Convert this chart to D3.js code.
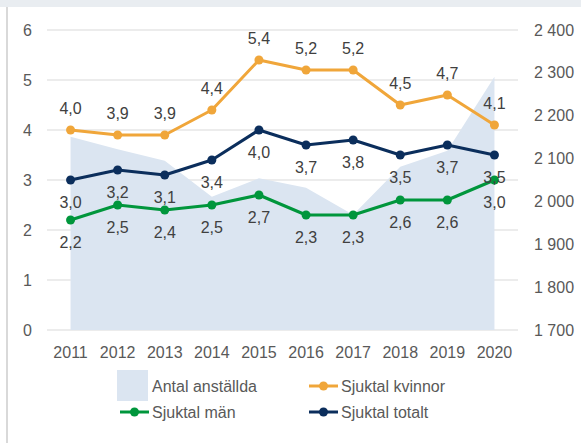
<!DOCTYPE html>
<html>
<head>
<meta charset="utf-8">
<script src="https://cdn.jsdelivr.net/npm/d3@7"></script>
<style>
  body { margin: 0; background: #fff; }
  text { font-family: "Liberation Sans", Arial, sans-serif; }
</style>
</head>
<body>
<svg id="chart" width="581" height="443"></svg>
<script>
var years = ["2011","2012","2013","2014","2015","2016","2017","2018","2019","2020"];
var anstallda = [2151, 2122, 2095, 2011, 2054, 2032, 1969, 2081, 2118, 2291];
var kvinnor = [4.0, 3.9, 3.9, 4.4, 5.4, 5.2, 5.2, 4.5, 4.7, 4.1];
var man = [2.2, 2.5, 2.4, 2.5, 2.7, 2.3, 2.3, 2.6, 2.6, 3.0];
var totalt = [3.0, 3.2, 3.1, 3.4, 4.0, 3.7, 3.8, 3.5, 3.7, 3.5];
var leftTicks = [0, 1, 2, 3, 4, 5, 6];
var rightTicks = [1700, 1800, 1900, 2000, 2100, 2200, 2300, 2400];

var svg = d3.select("#chart");

// frame: top band and left border
svg.append("rect").attr("x", 0).attr("y", 0).attr("width", 581).attr("height", 7).attr("fill", "#e9edf1");
svg.append("rect").attr("x", 6).attr("y", 7).attr("width", 2).attr("height", 436).attr("fill", "#d9d9d9");

var x = d3.scalePoint().domain(years).range([47, 518]).padding(0.5);
var y = d3.scaleLinear().domain([0, 6]).range([330, 30]);
var y2 = d3.scaleLinear().domain([1700, 2400]).range([330, 30]);

// gridlines
svg.append("g").selectAll("line")
  .data(leftTicks)
  .enter().append("line")
  .attr("x1", 47).attr("x2", 518)
  .attr("y1", function(d) { return y(d); })
  .attr("y2", function(d) { return y(d); })
  .attr("stroke", "#d9d9d9").attr("stroke-width", 1);

// area for antal anställda
var area = d3.area()
  .x(function(d, i) { return x(years[i]); })
  .y0(y2(1700))
  .y1(function(d) { return y2(d); });
svg.append("path").datum(anstallda).attr("d", area).attr("fill", "#dbe5f1");

// left axis labels
svg.append("g").selectAll("text")
  .data(leftTicks)
  .enter().append("text")
  .attr("x", 32).attr("y", function(d) { return y(d); })
  .attr("dy", "0.35em").attr("text-anchor", "end")
  .attr("font-size", 16).attr("fill", "#595959")
  .text(function(d) { return d; });

// right axis labels
var fmtRight = function(d) { return d3.format(",")(d).replace(",", " "); };
svg.append("g").selectAll("text")
  .data(rightTicks)
  .enter().append("text")
  .attr("x", 534).attr("y", function(d) { return y2(d); })
  .attr("dy", "0.35em").attr("text-anchor", "start")
  .attr("font-size", 16).attr("fill", "#595959")
  .text(fmtRight);

// x labels
svg.append("g").selectAll("text")
  .data(years)
  .enter().append("text")
  .attr("x", function(d) { return x(d); }).attr("y", 352)
  .attr("dy", "0.35em").attr("text-anchor", "middle")
  .attr("font-size", 16).attr("fill", "#595959")
  .text(function(d) { return d; });

var line = d3.line()
  .x(function(d, i) { return x(years[i]); })
  .y(function(d) { return y(d); });

var fmt = function(d) { return d.toFixed(1).replace(".", ","); };

function drawSeries(data, color, labelOffset) {
  var g = svg.append("g");
  g.append("path").datum(data).attr("d", line)
    .attr("fill", "none").attr("stroke", color).attr("stroke-width", 3)
    .attr("stroke-linejoin", "round");
  g.selectAll("circle").data(data).enter().append("circle")
    .attr("cx", function(d, i) { return x(years[i]); })
    .attr("cy", function(d) { return y(d); })
    .attr("r", 4.5).attr("fill", color);
  g.selectAll("text").data(data).enter().append("text")
    .attr("x", function(d, i) { return x(years[i]); })
    .attr("y", function(d) { return y(d) + labelOffset; })
    .attr("dy", "0.35em").attr("text-anchor", "middle")
    .attr("font-size", 16).attr("fill", "#404040")
    .text(fmt);
}

drawSeries(man, "#00963c", 22);
drawSeries(totalt, "#0b2e5c", 22);
drawSeries(kvinnor, "#f0a63a", -22);

// legend
var legend = svg.append("g");
legend.append("rect").attr("x", 117).attr("y", 370).attr("width", 31).attr("height", 31)
  .attr("fill", "#dbe5f1");
legend.append("text").attr("x", 152).attr("y", 386).attr("dy", "0.35em")
  .attr("font-size", 16).attr("fill", "#595959").text("Antal anställda");

var legendLines = [
  {name: "Sjuktal kvinnor", color: "#f0a63a", lx: 309, ly: 386},
  {name: "Sjuktal män", color: "#00963c", lx: 120, ly: 412},
  {name: "Sjuktal totalt", color: "#0b2e5c", lx: 309, ly: 412}
];
legendLines.forEach(function(d) {
  legend.append("line").attr("x1", d.lx).attr("x2", d.lx + 29)
    .attr("y1", d.ly).attr("y2", d.ly)
    .attr("stroke", d.color).attr("stroke-width", 3);
  legend.append("circle").attr("cx", d.lx + 14.5).attr("cy", d.ly).attr("r", 4.5).attr("fill", d.color);
  legend.append("text").attr("x", d.lx + 32).attr("y", d.ly).attr("dy", "0.35em")
    .attr("font-size", 16).attr("fill", "#595959").text(d.name);
});
</script>
</body>
</html>
